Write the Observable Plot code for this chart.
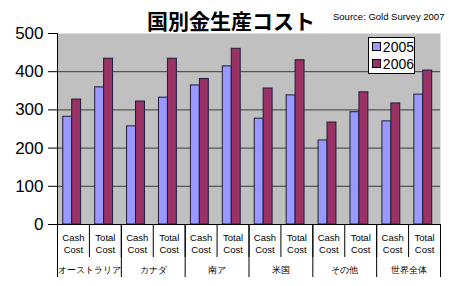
<!DOCTYPE html>
<html><head><meta charset="utf-8">
<script src="https://cdn.jsdelivr.net/npm/d3@7"></script>
<script src="https://cdn.jsdelivr.net/npm/@observablehq/plot@0.6"></script>
<style>
body{margin:0;background:#fff;font-family:Arial,"Liberation Sans",sans-serif;}
#wrap{position:relative;width:460px;height:286px;}
#title{position:absolute;left:147px;top:5px;font-family:"Noto Sans CJK JP",sans-serif;font-weight:bold;font-size:21px;line-height:30px;color:#000;}
#source{position:absolute;left:333px;top:11px;font-size:9.5px;color:#000;font-family:Arial,"Liberation Sans",sans-serif;}
#legend{position:absolute;left:368px;top:37px;width:47px;height:37px;background:#fff;border:1px solid #000;box-sizing:border-box;font-size:14px;}
#legend div{display:flex;align-items:center;height:17px;padding-left:3px;}
#legend span.sw{display:inline-block;width:7px;height:7px;border:1px solid #000;margin-right:2px;}
</style></head>
<body><div id="wrap"><div id="chart"></div>
<div id="title">国別金生産コスト</div>
<div id="source">Source: Gold Survey 2007</div>
<div id="legend"></div></div>
<script>
const groups = ["オーストラリア","カナダ","南ア","米国","その他","世界全体"];
const subs = ["Cash\nCost","Total\nCost"];
const years = ["2005","2006"];
const v2005 = [282, 359, 257, 332, 364, 414, 277, 338, 220, 294, 270, 340];
const v2006 = [327, 434, 322, 434, 381, 460, 356, 430, 267, 346, 317, 403];
const yTicks = [0, 100, 200, 300, 400, 500];
const colors = {"2005": "#9999FF", "2006": "#993366"};

const rows = [];
v2005.forEach((v, i) => rows.push({i, year: "2005", value: v}));
v2006.forEach((v, i) => rows.push({i, year: "2006", value: v}));
const off = {"2005": 0.18, "2006": 0.46};
const bw = 0.28;

const n = v2005.length;
const chart = Plot.plot({
  width: 460, height: 286,
  marginLeft: 57, marginRight: 20, marginTop: 33, marginBottom: 62,
  style: {fontFamily: "Arial, 'Liberation Sans', sans-serif", color: "#000", background: "transparent"},
  x: {type: "linear", domain: [0, n], axis: null},
  y: {domain: [0, 500], axis: null},
  marks: [
    Plot.frame({fill: "#C0C0C0", stroke: null}),
    Plot.ruleY(yTicks.filter(t => t > 0 && t < 500), {stroke: "#3a3a3a", strokeWidth: 1}),
    Plot.rectY(rows, {
      x1: d => d.i + off[d.year], x2: d => d.i + off[d.year] + bw,
      y: "value", fill: d => colors[d.year], stroke: "#1c1c3a", strokeWidth: 1
    }),
    Plot.axisY({ticks: yTicks, tickSize: 9, tickPadding: 5, fontSize: 17, label: null, tickFormat: d => String(d)}),
    Plot.ruleX([0], {stroke: "#000"}),
    Plot.ruleY([0], {stroke: "#000"}),
    Plot.axisX({ticks: d3.range(0, n + 1), tickSize: 33, tickFormat: () => "", label: null, stroke: "#000"}),
    Plot.axisX({ticks: d3.range(0, n + 1, 2), tickSize: 53, tickFormat: () => "", label: null, stroke: "#000"}),
    Plot.axisX({ticks: d3.range(n).map(i => i + 0.5), tickSize: 0, tickPadding: 7, label: null,
      fontSize: 9.5, lineHeight: 1.35, tickFormat: t => subs[Math.floor(t) % 2]}),
    Plot.axisX({ticks: groups.map((g, k) => 2 * k + 1), tickSize: 0, tickPadding: 42, label: null,
      fontSize: 8.8, tickFormat: t => groups[(t - 1) / 2]})
  ]
});
document.getElementById("chart").appendChild(chart);

const leg = document.getElementById("legend");
years.forEach(y => {
  const d = document.createElement("div");
  d.innerHTML = `<span class="sw" style="background:${colors[y]}"></span>${y}`;
  leg.appendChild(d);
});
</script></body></html>
